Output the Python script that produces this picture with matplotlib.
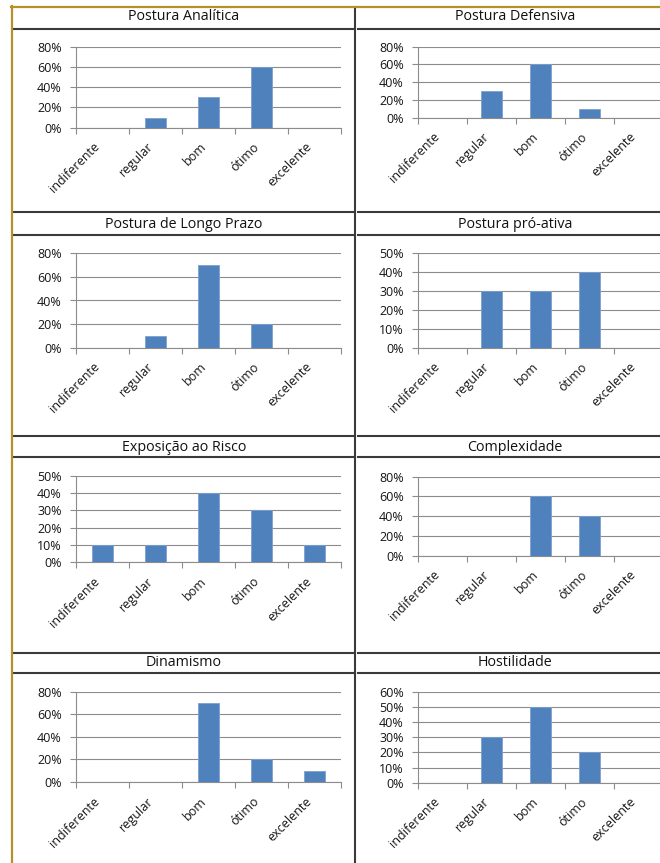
import matplotlib
matplotlib.use("Agg")
import matplotlib.pyplot as plt
from matplotlib.lines import Line2D
from matplotlib.ticker import FuncFormatter, MultipleLocator
import numpy as np

plt.rcParams['font.family'] = ['Open Sans', 'DejaVu Sans']

categorias = ["indiferente", "regular", "bom", "ótimo", "excelente"]

titulos = ["Postura Analítica", "Postura Defensiva",
           "Postura de Longo Prazo", "Postura pró-ativa",
           "Exposição ao Risco", "Complexidade",
           "Dinamismo", "Hostilidade"]

analitica = [0.0, 0.1, 0.3, 0.6, 0.0]
defensiva = [0.0, 0.3, 0.6, 0.1, 0.0]
longo_prazo = [0.0, 0.1, 0.7, 0.2, 0.0]
pro_ativa = [0.0, 0.3, 0.3, 0.4, 0.0]
exposicao = [0.1, 0.1, 0.4, 0.3, 0.1]
complexidade = [0.0, 0.0, 0.6, 0.4, 0.0]
dinamismo = [0.0, 0.0, 0.7, 0.2, 0.1]
hostilidade = [0.0, 0.3, 0.5, 0.2, 0.0]

series = [analitica, defensiva, longo_prazo, pro_ativa,
          exposicao, complexidade, dinamismo, hostilidade]

# y axis max and step for each panel
y_max = [0.8, 0.8, 0.8, 0.5, 0.5, 0.8, 0.8, 0.6]
y_step = [0.2, 0.2, 0.2, 0.1, 0.1, 0.2, 0.2, 0.1]

W, H = 660, 863
fig = plt.figure(figsize=(W / 100, H / 100), dpi=100)

# pixel boxes of the plot areas (x0, y_top, x1, y_bottom)
col_x = [(76, 341), (418, 663)]
row_y = [[(46.7, 127.7), (46.7, 117.7)],
         [(253.3, 347.7), (253.3, 347.7)],
         [(476, 562), (476.7, 555.7)],
         [(691.7, 782), (691.7, 782.7)]]
title_y = [17, 224, 447, 662]
title_x = [184, 515]

bar_color = '#4F81BD'
grid_color = '#8C8C8C'
text_color = '#151515'


def px_axes(x0, y0, x1, y1):
    return fig.add_axes([x0 / W, 1 - y1 / H, (x1 - x0) / W, (y1 - y0) / H])


x = np.arange(len(categorias))

for i, vals in enumerate(series):
    r, c = divmod(i, 2)
    x0, x1 = col_x[c]
    y0, y1 = row_y[r][c]
    ax = px_axes(x0, y0, x1, y1)
    ax.bar(x, vals, width=0.41, color=bar_color, edgecolor='#7DA0CE',
           linewidth=0.6, zorder=3)
    ax.set_xlim(-0.5, 4.5)
    ax.set_ylim(0, y_max[i])
    ax.yaxis.set_major_locator(MultipleLocator(y_step[i]))
    ax.yaxis.set_major_formatter(FuncFormatter(lambda v, p: f"{v * 100:.0f}%"))
    ax.grid(axis='y', color=grid_color, linewidth=0.8, zorder=0)
    for s in ['top', 'right']:
        ax.spines[s].set_visible(False)
    for s in ['left', 'bottom']:
        ax.spines[s].set_color(grid_color)
        ax.spines[s].set_linewidth(0.8)
    ax.set_xticks(x)
    ax.set_xticklabels(categorias, rotation=45, ha='right',
                       fontsize=9, color=text_color)
    ax.set_xticks(np.arange(-0.5, 5, 1), minor=True)
    ax.tick_params(axis='x', which='major', length=0, pad=9)
    ax.tick_params(axis='x', which='minor', length=4, width=0.8,
                   color=grid_color, direction='out')
    ax.tick_params(axis='y', length=4.3, width=0.8, color=grid_color,
                   labelsize=9, labelcolor=text_color, pad=6)
    fig.text(title_x[c] / W, 1 - title_y[r] / H, titulos[i],
             ha='center', va='center', fontsize=10.3, color='#111111')

# frame lines of the table
def hline(y, xa, xb, color='#3A3A3A', lw=1.5):
    fig.add_artist(Line2D([xa / W, xb / W], [1 - y / H, 1 - y / H],
                          color=color, linewidth=lw, transform=fig.transFigure))


def vline(xp, ya, yb, color='#3A3A3A', lw=1.5):
    fig.add_artist(Line2D([xp / W, xp / W], [1 - ya / H, 1 - yb / H],
                          color=color, linewidth=lw, transform=fig.transFigure))


for y in [29, 212, 235.5, 436, 456.5, 652.5, 673]:
    hline(y, 14, 353)
    hline(y, 358, 660)
vline(354.5, 7, 863)

gold = '#B8902A'
hline(7, 11, 660, color=gold, lw=1.6)
vline(12, 6.5, 863, color=gold, lw=1.6)

fig.savefig("out.png", dpi=100)
